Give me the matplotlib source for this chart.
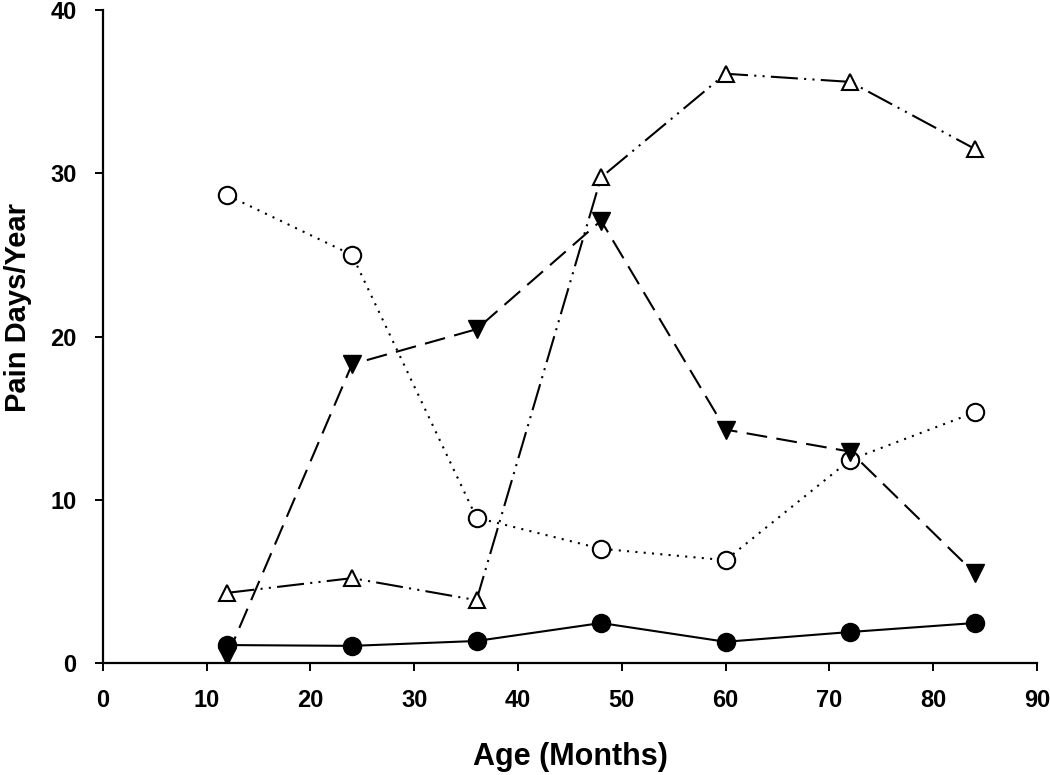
import matplotlib
matplotlib.use("Agg")
import matplotlib.pyplot as plt

ages = [12, 24, 36, 48, 60, 72, 84]
filled_circle = [1.1, 1.05, 1.35, 2.45, 1.3, 1.9, 2.45]
open_circle = [28.65, 25.0, 8.9, 7.0, 6.3, 12.45, 15.35]
filled_tri_down = [0.45, 18.3, 20.45, 27.1, 14.3, 12.95, 5.5]
open_tri_up = [4.3, 5.2, 3.85, 29.75, 36.1, 35.6, 31.5]

xticks = [0, 10, 20, 30, 40, 50, 60, 70, 80, 90]
yticks = [0, 10, 20, 30, 40]

plt.rcParams['font.family'] = ['Liberation Sans', 'DejaVu Sans']

fig = plt.figure(figsize=(10.5, 7.75), dpi=100)
ax = fig.add_axes([0.098, 0.1445, 0.8896, 0.8425])

lw = 1.5
ax.plot(ages, filled_circle, color='black', linestyle='-', linewidth=lw,
        marker='o', markersize=13, markerfacecolor='black', markeredgecolor='black', zorder=3)
ax.plot(ages, open_circle, color='black', linestyle=(0, (1, 3)), linewidth=lw,
        marker='o', markersize=12.5, markerfacecolor='white', markeredgecolor='black',
        markeredgewidth=1.5, zorder=3)
ax.plot(ages, filled_tri_down, color='black', linestyle=(0, (10, 4.5)), linewidth=lw,
        marker='v', markersize=12.5, markerfacecolor='black', markeredgecolor='black', zorder=3)
ax.plot(ages, open_tri_up, color='black', linestyle=(0, (13, 3, 1, 3, 1, 3)), linewidth=lw,
        marker='^', markersize=12, markerfacecolor='white', markeredgecolor='black',
        markeredgewidth=1.5, zorder=3)

ax.set_xlim(0, 90)
ax.set_ylim(0, 40)
ax.set_xticks(xticks)
ax.set_yticks(yticks)
ax.spines['top'].set_visible(False)
ax.spines['right'].set_visible(False)
ax.spines['left'].set_linewidth(1.6)
ax.spines['bottom'].set_linewidth(1.6)
ax.tick_params(direction='out', length=6, width=1.4, labelsize=17, pad=13)
for lab in ax.get_xticklabels() + ax.get_yticklabels():
    lab.set_fontweight('bold')
ax.set_xlabel('Age (Months)', fontsize=22, fontweight='bold', va='center')
ax.xaxis.set_label_coords(0.5, -0.144)
ax.set_ylabel('Pain Days/Year', fontsize=21, fontweight='bold', va='center')
ax.yaxis.set_label_coords(-0.091, 0.544)

fig.savefig('out.png', dpi=100)
